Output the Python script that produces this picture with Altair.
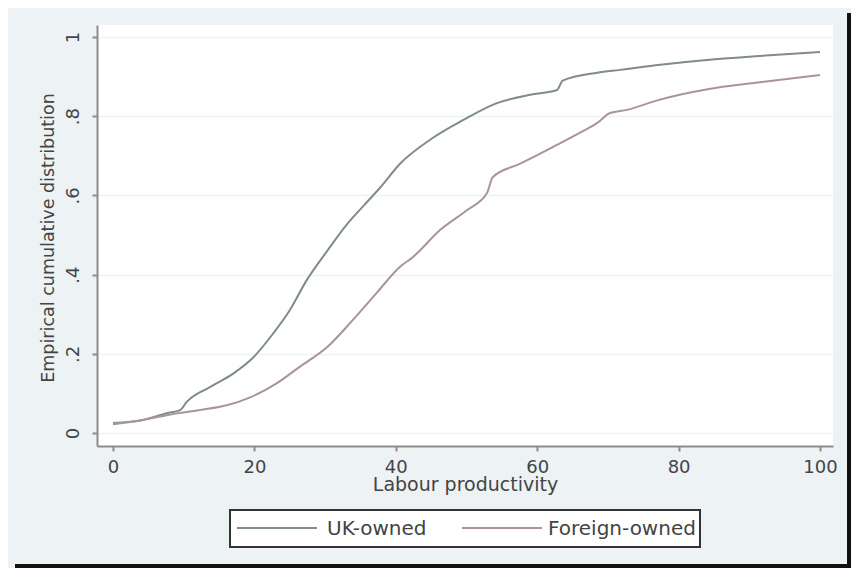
import altair as alt
import pandas as pd

# ---- data ----
uk_x = [0, 4.2, 7.6, 9.5, 10.4, 13.7, 17.0, 19.8, 22.6, 25.0, 27.4, 30.3, 33.0, 35.5,
        37.8, 40.6, 44.8, 49.5, 54.3, 59.0, 62.8, 63.6, 68.5, 71.7, 77.4, 84.0, 91.5, 100]
uk_y = [0.025, 0.033, 0.05, 0.058, 0.078, 0.116, 0.15, 0.19, 0.25, 0.31, 0.386, 0.46, 0.525, 0.575,
        0.62, 0.68, 0.74, 0.79, 0.833, 0.854, 0.866, 0.89, 0.91, 0.917, 0.93, 0.942, 0.952, 0.962]

fo_x = [0, 4.2, 7.6, 12.3, 16.1, 19.4, 23.2, 26.4, 30.3, 33.9, 37.3, 40.6, 42.4, 46.3, 50.1,
        52.9, 53.7, 57.6, 62.2, 66.0, 68.5, 70.3, 72.7, 77.0, 82.0, 86.5, 91.5, 100]
fo_y = [0.022, 0.033, 0.045, 0.058, 0.07, 0.09, 0.126, 0.167, 0.217, 0.285, 0.354, 0.42, 0.444, 0.513, 0.563,
        0.606, 0.646, 0.68, 0.722, 0.758, 0.783, 0.808, 0.816, 0.84, 0.861, 0.875, 0.886, 0.904]

groups = ["UK-owned", "Foreign-owned"]
colors = ["#808b8c", "#a99595"]

y_ticks = [0, 0.2, 0.4, 0.6, 0.8, 1]
x_ticks = [0, 20, 40, 60, 80, 100]

df = pd.concat([
    pd.DataFrame({"x": uk_x, "y": uk_y, "g": groups[0], "o": range(len(uk_x))}),
    pd.DataFrame({"x": fo_x, "y": fo_y, "g": groups[1], "o": range(len(fo_x))}),
])
leg = pd.DataFrame({"g": groups})

FONT = "DejaVu Sans"
AX = "#8c8c8c"
TXT = "#444444"

lines = alt.Chart(df).mark_line(strokeWidth=2, interpolate="monotone").encode(
    x=alt.X("x:Q", scale=alt.Scale(domain=[-2.263, 101.84], nice=False, zero=False),
            axis=alt.Axis(values=x_ticks, title="Labour productivity", grid=False,
                          titleY=44, titleBaseline="alphabetic", titleFontSize=19,
                          labelFontSize=18, labelPadding=7)),
    y=alt.Y("y:Q", scale=alt.Scale(domain=[-0.0328, 1.0303], nice=False, zero=False),
            axis=alt.Axis(values=y_ticks, title="Empirical cumulative distribution",
                          labelExpr="datum.value == 0 ? '0' : datum.value == 1 ? '1' : replace(format(datum.value, '.1f'), '0.', '.')",
                          labelAngle=270, labelAlign="center", labelBaseline="bottom",
                          labelPadding=10, labelFontSize=18,
                          titleAngle=270, titleX=-49, titleY=212.5, titleAlign="center",
                          titleBaseline="middle", titleFontSize=17.5,
                          grid=True, gridColor="#eef1f3", gridWidth=1.5)),
    color=alt.Color("g:N", scale=alt.Scale(domain=groups, range=colors), legend=None),
    order="o:Q",
)

# legend (Stata-style boxed, horizontal)
leg_box = alt.Chart(leg).transform_filter(alt.datum.g == groups[0]).mark_rect(
    fill="white", stroke="#333333", strokeWidth=2, clip=False).encode(
    x=alt.value(133), x2=alt.value(603), y=alt.value(485), y2=alt.value(522))
leg_line1 = alt.Chart(leg).transform_filter(alt.datum.g == groups[0]).mark_rule(
    color=colors[0], strokeWidth=2, clip=False).encode(
    x=alt.value(140), x2=alt.value(220), y=alt.value(503))
leg_line2 = alt.Chart(leg).transform_filter(alt.datum.g == groups[1]).mark_rule(
    color=colors[1], strokeWidth=2, clip=False).encode(
    x=alt.value(365), x2=alt.value(445), y=alt.value(503))
leg_txt1 = alt.Chart(leg).transform_filter(alt.datum.g == groups[0]).mark_text(
    font=FONT, fontSize=20, color=TXT, align="left", baseline="alphabetic", clip=False).encode(
    text="g:N", x=alt.value(230), y=alt.value(510))
leg_txt2 = alt.Chart(leg).transform_filter(alt.datum.g == groups[1]).mark_text(
    font=FONT, fontSize=20, color=TXT, align="left", baseline="alphabetic", clip=False).encode(
    text="g:N", x=alt.value(451), y=alt.value(510))

frame_right = alt.Chart(leg).transform_filter(alt.datum.g == groups[0]).mark_rule(
    color="#111111", strokeWidth=4, clip=False).encode(
    x=alt.value(752), y=alt.value(-12), y2=alt.value(543))
frame_bottom = alt.Chart(leg).transform_filter(alt.datum.g == groups[0]).mark_rule(
    color="#111111", strokeWidth=4, clip=False).encode(
    y=alt.value(541), x=alt.value(-82), x2=alt.value(754))

chart = alt.layer(lines, leg_box, leg_line1, leg_line2, leg_txt1, leg_txt2,
                  frame_right, frame_bottom).properties(
    width=736, height=421,
    autosize=alt.AutoSizeParams(type="none"),
    padding={"left": 89, "top": 17, "right": 18, "bottom": 122},
    background="#edf2f5",
).configure_view(fill="white", strokeWidth=0).configure_axis(
    domainColor=AX, domainWidth=2, tickColor=AX, tickWidth=2, tickSize=5,
    labelColor=TXT, titleColor=TXT, labelFont=FONT, titleFont=FONT, titleFontWeight="normal",
)

chart.save("out.html", embed_options={"renderer": "svg", "actions": False})
